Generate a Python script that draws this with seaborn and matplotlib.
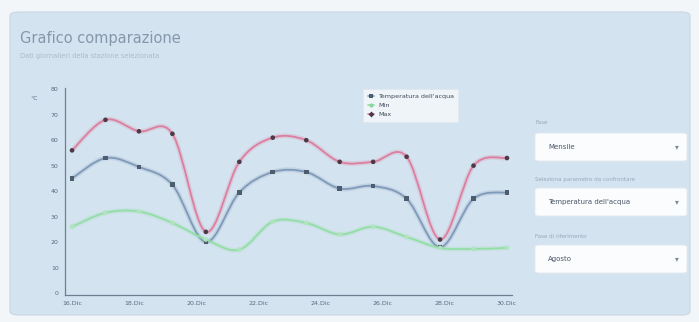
import numpy as np
import pandas as pd
import matplotlib
matplotlib.use("Agg")
import matplotlib.pyplot as plt
from matplotlib.path import Path
from matplotlib.patches import PathPatch, FancyBboxPatch
from matplotlib.lines import Line2D
import seaborn as sns

# ---- data -------------------------------------------------------------
days = list(range(14))
acqua = [45, 53, 49.5, 42.5, 20, 39.5, 47.5, 47.5, 41, 42, 37, 18, 37, 39.5]
t_min = [26, 31.5, 32, 27.5, 21, 17, 28, 27.5, 23, 26, 22, 17.7, 17.3, 17.7]
t_max = [56, 68, 63.5, 62.5, 24, 51.5, 61, 60, 51.5, 51.5, 53.5, 21, 50, 53]
tick_labels = ["16.Dic", "18.Dic", "20.Dic", "22.Dic", "24.Dic", "26.Dic", "28.Dic", "30.Dic"]
y_ticks = [0, 10, 20, 30, 40, 50, 60, 70, 80]

series_names = ["Temperatura dell'acqua", "Min", "Max"]
df = pd.DataFrame({
    "giorno": days * 3,
    "valore": acqua + t_min + t_max,
    "serie": sum([[n] * len(days) for n in series_names], []),
})

line_colors = {"Temperatura dell'acqua": "#7f9ab8", "Min": "#93dea6", "Max": "#dc7f9f"}
marker_colors = {"Temperatura dell'acqua": "#4d5d6e", "Min": "#b0e4bd", "Max": "#4a3a48"}
markers = {"Temperatura dell'acqua": "s", "Min": "o", "Max": "o"}

card_bg = "#d4e3f0"

sns.set_theme(style="white")
plt.rcParams["font.family"] = ["DejaVu Sans"]

fig = plt.figure(figsize=(6.99, 3.22), dpi=100)
fig.patch.set_facecolor("#f3f6f9")

# card behind everything
card = FancyBboxPatch((10 / 699, 7 / 322), 680 / 699, 303 / 322,
                      boxstyle="round,pad=0,rounding_size=0.012",
                      transform=fig.transFigure, facecolor=card_bg,
                      edgecolor="#c9d6e2", linewidth=0.8, zorder=-10)
fig.patches.append(card)

fig.text(20 / 699, 1 - 38 / 322, "Grafico comparazione", fontsize=10.5,
         color="#8797ab", va="center", ha="left")
fig.text(20 / 699, 1 - 56 / 322, "Dati giornalieri della stazione selezionata",
         fontsize=4.9, color="#aebbc9", va="center", ha="left")

ax = fig.add_axes([65 / 699, 1 - 295 / 322, (512 - 65) / 699, (295 - 88) / 322])
ax.set_facecolor("none")
ax.set_zorder(5)


def smooth_path(xs, ys, tension=0.5):
    """Catmull-Rom curve through the points, expressed as cubic Bezier segments."""
    xs = np.asarray(xs, float)
    ys = np.asarray(ys, float)
    verts = [(xs[0], ys[0])]
    codes = [Path.MOVETO]
    n = len(xs)
    for i in range(n - 1):
        p0 = np.array([xs[max(i - 1, 0)], ys[max(i - 1, 0)]])
        p1 = np.array([xs[i], ys[i]])
        p2 = np.array([xs[i + 1], ys[i + 1]])
        p3 = np.array([xs[min(i + 2, n - 1)], ys[min(i + 2, n - 1)]])
        c1 = p1 + (p2 - p0) * tension / 3
        c2 = p2 - (p3 - p1) * tension / 3
        verts += [tuple(c1), tuple(c2), tuple(p2)]
        codes += [Path.CURVE4] * 3
    return Path(verts, codes)


for name in series_names:
    sub = df[df["serie"] == name]
    # soft halo under the line
    ax.add_patch(PathPatch(smooth_path(sub["giorno"], sub["valore"]), facecolor="none",
                           edgecolor=line_colors[name], lw=3.5, alpha=0.22, zorder=2))
    ax.add_patch(PathPatch(smooth_path(sub["giorno"], sub["valore"]), facecolor="none",
                           edgecolor=line_colors[name], lw=1.3, zorder=3))

sns.scatterplot(data=df, x="giorno", y="valore", hue="serie", style="serie",
                palette=marker_colors, markers=markers, s=11, linewidth=0,
                legend=False, ax=ax, zorder=4)

ax.set_xlim(-0.21, 13.15)
ax.set_ylim(-0.8, 80.5)
ax.set_xticks(np.linspace(0, 13, len(tick_labels)))
ax.set_xticklabels(tick_labels)
ax.set_yticks(y_ticks)
ax.tick_params(axis="both", labelsize=4.5, colors="#5a6a7d", length=2.5, width=0.6, pad=2)
ax.set_xlabel("")
ax.set_ylabel("")
for side in ["top", "right"]:
    ax.spines[side].set_visible(False)
for side in ["left", "bottom"]:
    ax.spines[side].set_color("#6e7e90")
    ax.spines[side].set_linewidth(0.9)
ax.text(-0.06, 0.95, "°C", transform=ax.transAxes, fontsize=4.5, color="#5a6a7d",
        ha="right", va="center")

handles = [
    Line2D([], [], color=line_colors[n], lw=1.2, marker=markers[n] if n != "Max" else "D",
           markersize=3, markerfacecolor=marker_colors[n] if n != "Min" else "#8fd4a0",
           markeredgewidth=0)
    for n in series_names
]
leg = ax.legend(handles, series_names, loc="upper left", bbox_to_anchor=(0.66, 1.01),
                fontsize=4.6, frameon=True, handlelength=1.0, borderpad=0.7,
                labelspacing=0.55, handletextpad=0.6)
leg.get_frame().set_facecolor("#f7f9fb")
leg.get_frame().set_edgecolor("#e0e7ee")
leg.get_frame().set_linewidth(0.6)
leg.get_frame().set_boxstyle("square", pad=0)
for t in leg.get_texts():
    t.set_color("#3f4b58")

# side controls
controls = [
    ("Fase", "Mensile", 123, 133),
    ("Seleziona parametro da confrontare", "Temperatura dell'acqua", 180, 188),
    ("Fase di riferimento", "Agosto", 236, 245),
]
for label, value, ly, by in controls:
    fig.text(535 / 699, 1 - ly / 322, label, fontsize=4.0, color="#9aa8b8",
             ha="left", va="center")
    box = FancyBboxPatch((535 / 699, 1 - (by + 28) / 322), 152 / 699, 28 / 322,
                         boxstyle="round,pad=0,rounding_size=0.006",
                         transform=fig.transFigure, facecolor="#fbfcfd",
                         edgecolor="#e2e8ee", linewidth=0.6, zorder=1)
    fig.patches.append(box)
    fig.text(548 / 699, 1 - (by + 14) / 322, value, fontsize=5.0, color="#4a5666",
             ha="left", va="center")
    fig.text(677 / 699, 1 - (by + 14) / 322, "▾", fontsize=5.5, color="#7d8895",
             ha="center", va="center")

fig.savefig("out.png", dpi=100, facecolor=fig.get_facecolor())
